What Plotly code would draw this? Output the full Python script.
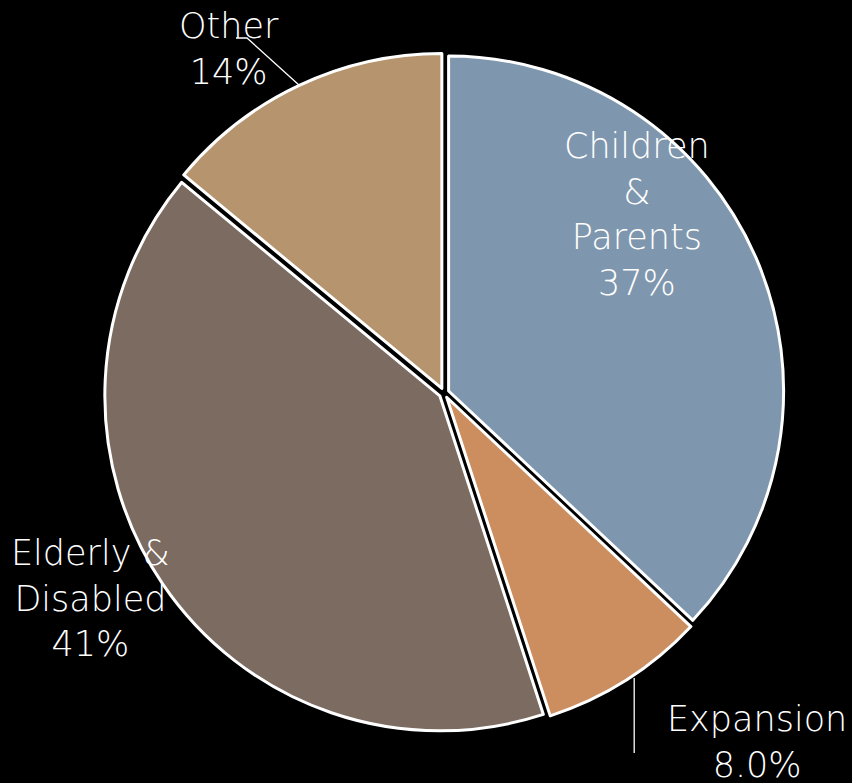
import math
import plotly.graph_objects as go

# Share of spending by eligibility group
groups = ["Children<br>&<br>Parents", "Expansion", "Elderly &<br>Disabled", "Other"]
shares = [37, 8.0, 41, 14]
decimals = [0, 1, 0, 0]
colors = ["#7F97AE", "#CC8D5F", "#7B6B61", "#B5946E"]

W, H = 852, 783
# pie geometry in pixels
cx, cy, R = 444, 393, 335
pull = 0.015

def to_paper(px, py):
    return px / W, 1 - py / H

half = R * (1 + pull)
x0, y1 = to_paper(cx - half, cy - half)
x1, y0 = to_paper(cx + half, cy + half)

fig = go.Figure(go.Pie(
    labels=[g.replace("<br>", " ") for g in groups],
    values=shares,
    sort=False,
    direction="clockwise",
    rotation=0,
    pull=[pull] * len(shares),
    marker=dict(colors=colors, line=dict(color="white", width=3)),
    textinfo="none",
    hoverinfo="label+percent",
    domain=dict(x=[x0, x1], y=[y0, y1]),
    showlegend=False,
))

total = sum(shares)
mids = []
acc = 0
for v in shares:
    mids.append((acc + v / 2) / total * 2 * math.pi)
    acc += v

def edge_point(i):
    a = mids[i]
    r = R * (1 + pull)
    return (cx + r * math.sin(a), cy - r * math.cos(a))

# label block centres (pixels)
label_pos = [(637, 214), (757, 742), (90, 598), (229, 49)]

font = dict(family="'DejaVu Sans', sans-serif", size=35, color="white", weight=300)
annotations = []
for g, v, d, (lx, ly) in zip(groups, shares, decimals, label_pos):
    ax_, ay_ = to_paper(lx, ly)
    annotations.append(dict(
        x=ax_, y=ay_, xref="paper", yref="paper",
        text=f"{g}<br>{v:.{d}f}%", showarrow=False,
        font=font, align="center", xanchor="center", yanchor="middle",
    ))

shapes = []
# leader line for "Other"
ox, oy = edge_point(3)
path_pts = [(236, 38), (247, 38), (ox, oy)]
p = [to_paper(*pt) for pt in path_pts]
shapes.append(dict(
    type="path", xref="paper", yref="paper",
    path=f"M {p[0][0]},{p[0][1]} L {p[1][0]},{p[1][1]} L {p[2][0]},{p[2][1]}",
    line=dict(color="white", width=1.3),
))
# leader line for "Expansion"
ex, ey = edge_point(1)
ex += 8
a0 = to_paper(ex, ey - 2)
a1 = to_paper(ex, 753)
shapes.append(dict(
    type="line", xref="paper", yref="paper",
    x0=a0[0], y0=a0[1], x1=a1[0], y1=a1[1],
    line=dict(color="white", width=1.3),
))

fig.update_layout(
    width=W, height=H,
    margin=dict(l=0, r=0, t=0, b=0),
    paper_bgcolor="black", plot_bgcolor="black",
    annotations=annotations, shapes=shapes,
)

fig.write_html("out.html")
